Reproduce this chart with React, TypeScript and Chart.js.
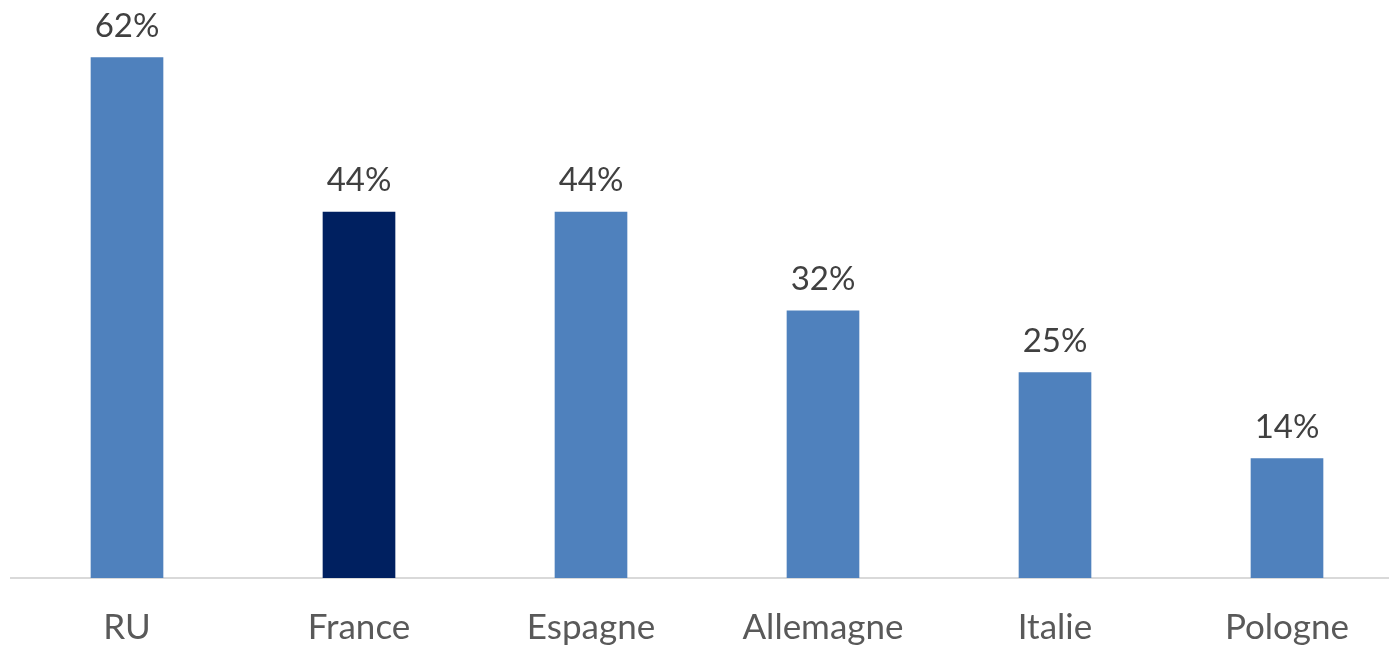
import React, { useEffect, useRef } from "react";
import { Chart, registerables } from "chart.js";

Chart.register(...registerables);

const categories = ["RU", "France", "Espagne", "Allemagne", "Italie", "Pologne"];
const values = [62.3, 43.8, 43.8, 32.0, 24.6, 14.3];
const barColors = ["#4F81BD", "#002060", "#4F81BD", "#4F81BD", "#4F81BD", "#4F81BD"];

const FONT = "Lato, 'Open Sans', sans-serif";

export default function App() {
  const ref = useRef<HTMLCanvasElement | null>(null);

  useEffect(() => {
    if (!ref.current) return;
    const labelPlugin = {
      id: "valueLabels",
      afterDatasetsDraw(chart: any) {
        const ctx = chart.ctx;
        const meta = chart.getDatasetMeta(0);
        ctx.save();
        ctx.font = `33px ${FONT}`;
        ctx.fillStyle = "#404040";
        ctx.textAlign = "center";
        ctx.textBaseline = "alphabetic";
        meta.data.forEach((bar: any, i: number) => {
          ctx.fillText(`${Math.round(values[i])}%`, bar.x, bar.y - 21);
        });
        ctx.restore();
      },
    };
    const chart = new Chart(ref.current, {
      type: "bar",
      data: {
        labels: categories,
        datasets: [
          {
            data: values,
            backgroundColor: barColors,
            borderWidth: 0,
            barThickness: 72,
          },
        ],
      },
      options: {
        responsive: false,
        animation: false,
        devicePixelRatio: 1,
        layout: { padding: { left: 11, right: 17, top: 0, bottom: 0 } },
        plugins: { legend: { display: false }, tooltip: { enabled: false } },
        scales: {
          y: { display: false, min: 0, max: 69.2 },
          x: {
            offset: true,
            grid: { display: false, drawTicks: false },
            border: { display: true, color: "#D9D9D9", width: 2 },
            ticks: {
              color: "#595959",
              font: { family: FONT, size: 35 },
              padding: 29,
              maxRotation: 0,
              autoSkip: false,
            },
            afterFit: (scale: any) => {
              scale.height = 67;
            },
          },
        },
      },
      plugins: [labelPlugin],
    });
    return () => chart.destroy();
  }, []);

  return (
    <div style={{ position: "absolute", left: 0, top: 0, width: 1389, height: 645, overflow: "hidden", background: "#fff" }}>
      <canvas ref={ref} width={1420} height={645} style={{ width: 1420, height: 645, display: "block" }} />
    </div>
  );
}
